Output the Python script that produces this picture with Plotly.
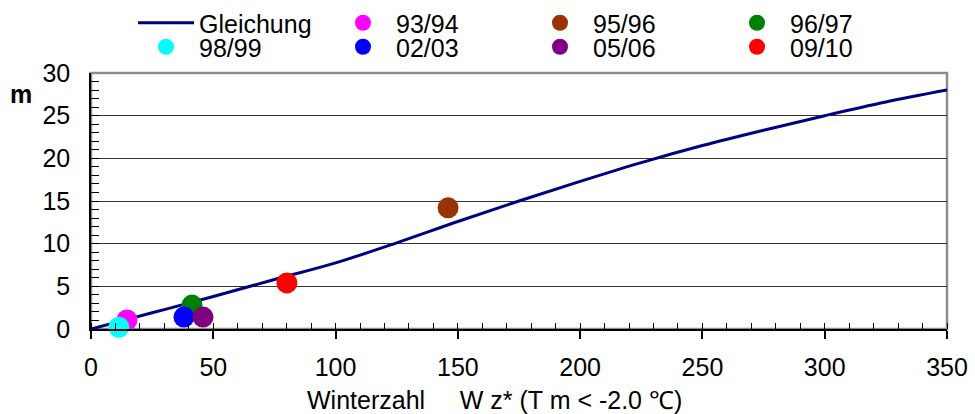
import plotly.graph_objects as go

# ---- data ----
curve_x = [0, 25, 50, 75, 100, 125, 150, 175, 200, 225, 250, 275, 300, 325, 350]
curve_y = [0, 1.9, 3.8, 5.8, 7.75, 10.1, 12.6, 15.0, 17.3, 19.5, 21.5, 23.3, 25.0, 26.6, 28.0]

season_labels = ["93/94", "95/96", "96/97", "98/99", "02/03", "05/06", "09/10"]
season_x = [14.7, 146, 41.3, 11.4, 38, 45.8, 80.1]
season_y = [1.05, 14.2, 2.8, 0.2, 1.4, 1.4, 5.4]
season_colors = ["#FF00FF", "#993300", "#008000", "#00FFFF", "#0000FF", "#800080", "#FF0000"]
row1 = {"93/94", "95/96", "96/97"}

x_ticks = [0, 50, 100, 150, 200, 250, 300, 350]
y_ticks = [0, 5, 10, 15, 20, 25, 30]

W, H = 975, 414
L, R, T, B = 91, 28, 73, 85
FONT = "Liberation Sans, Arial, sans-serif"
FS = 25

fig = go.Figure()
fig.add_trace(go.Scatter(x=curve_x, y=curve_y, mode="lines", name="Gleichung",
                         line=dict(color="#000080", width=3, shape="spline"),
                         legend="legend"))
for lab, xv, yv, c in zip(season_labels, season_x, season_y, season_colors):
    fig.add_trace(go.Scatter(x=[xv], y=[yv], mode="markers", name=lab,
                             marker=dict(color=c, size=21, line=dict(width=0)),
                             cliponaxis=False,
                             legend="legend" if lab in row1 else "legend2"))

leg_common = dict(orientation="h", entrywidth=126, entrywidthmode="pixels",
                  itemwidth=56, font=dict(family=FONT, size=FS, color="black"),
                  bgcolor="rgba(0,0,0,0)", borderwidth=0,
                  xref="container", yref="container", xanchor="left", yanchor="middle",
                  tracegroupgap=0)

fig.update_layout(
    width=W, height=H,
    margin=dict(l=L, r=R, t=T, b=B, autoexpand=False),
    paper_bgcolor="white", plot_bgcolor="white",
    font=dict(family=FONT, size=FS, color="black"),
    showlegend=True,
    legend=dict(**leg_common, x=133 / W, y=1 - 23 / H),
    legend2=dict(**leg_common, x=133 / W, y=1 - 47 / H),
    xaxis=dict(range=[0, 350], tickvals=x_ticks, ticks="outside", ticklen=8,
               tickcolor="black", tickwidth=1.5,
               showline=True, linecolor="black", linewidth=1.5,
               showgrid=False, zeroline=False, ticklabelstandoff=7,
               tickfont=dict(family=FONT, size=FS, color="black"),
               minor=dict(dtick=10, ticks="inside", ticklen=6, tickcolor="black", tickwidth=1.2, showgrid=False)),
    yaxis=dict(range=[0, 30], tickvals=y_ticks, ticks="inside", ticklen=8,
               tickcolor="black", tickwidth=1.2,
               showline=True, linecolor="black", linewidth=1.5,
               showgrid=True, gridcolor="#333333", gridwidth=1,
               zeroline=False, ticklabelstandoff=14,
               tickfont=dict(family=FONT, size=FS, color="black"),
               minor=dict(dtick=1, ticks="inside", ticklen=8, tickcolor="black", tickwidth=1, showgrid=False)),
    shapes=[dict(type="rect", xref="paper", yref="paper", x0=0, x1=1, y0=0, y1=1,
                 line=dict(color="#8c8c8c", width=2.5), layer="below")],
    annotations=[
        dict(text="<b>m</b>", xref="paper", yref="paper", x=(21 - L) / (W - L - R),
             y=(H - B - 94) / (H - T - B), showarrow=False, xanchor="center", yanchor="middle",
             font=dict(family=FONT, size=FS, color="black")),
        dict(text="Winterzahl\u00a0\u00a0\u00a0\u00a0\u00a0W z* (T m < -2.0 \u2103)",
             xref="paper", yref="paper", x=(305 - L) / (W - L - R),
             y=(H - B - 400) / (H - T - B), showarrow=False, xanchor="left", yanchor="middle",
             font=dict(family=FONT, size=FS, color="black")),
    ],
)

fig.write_html("out.html", config={"displayModeBar": False},
               post_script="document.body.style.margin='0';document.body.style.padding='0';")
